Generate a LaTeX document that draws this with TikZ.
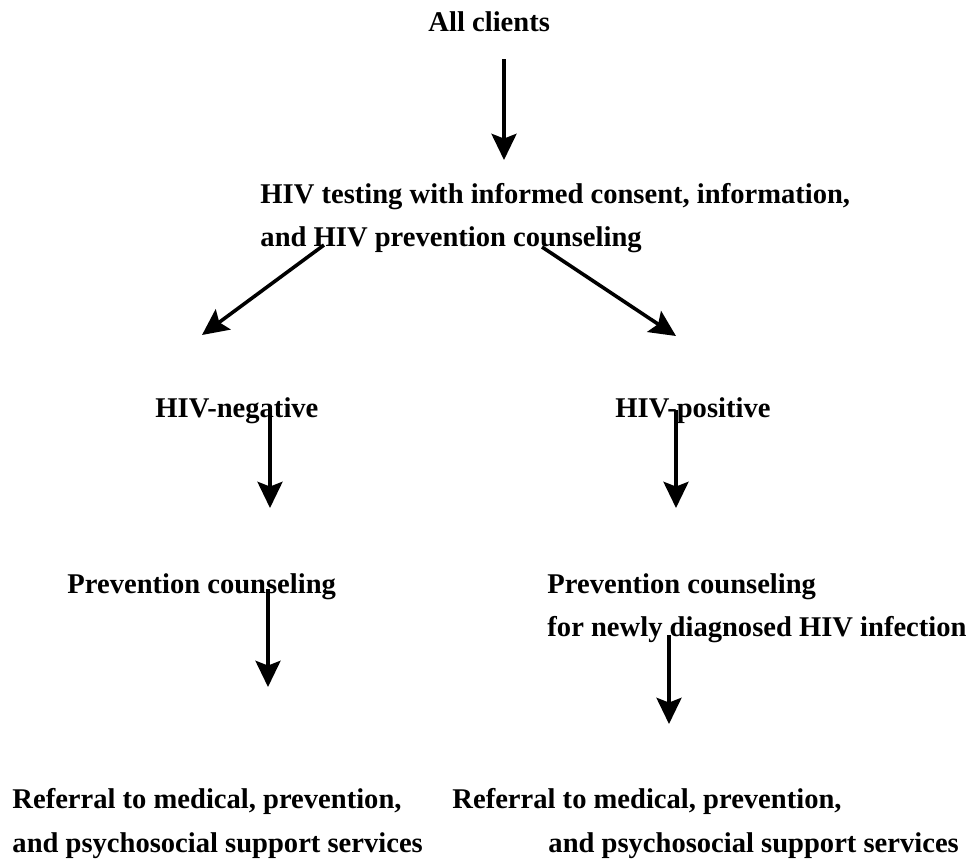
\documentclass[tikz,border=0pt]{standalone}
\usepackage{fontspec}
\setmainfont{Liberation Serif}
\usetikzlibrary{arrows.meta}

\begin{document}
\begin{tikzpicture}[x=0.42pt,y=-0.42pt,
  lbl/.style={anchor=base west,inner sep=0pt,font=\fontsize{12pt}{14pt}\selectfont\bfseries},
  arr/.style={line width=1.5pt,-{Stealth[length=11pt,width=10.5pt,inset=2pt]}}]
\useasboundingbox (0,0) rectangle (969,860);

% texts
\node[lbl] (all) at (428,31) {All clients};
\node[lbl] (test1) at (260,203) {HIV testing with informed consent, information,};
\node[lbl] (test2) at (260,246) {and HIV prevention counseling};
\node[lbl] (neg) at (155,417) {HIV-negative};
\node[lbl] (pos) at (615,417) {HIV-positive};
\node[lbl] (negcoun) at (67,593) {Prevention counseling};
\node[lbl] (poscoun1) at (547,593) {Prevention counseling};
\node[lbl] (poscoun2) at (547,636) {for newly diagnosed HIV infection};
\node[lbl] (negref1) at (12,808) {Referral to medical, prevention,};
\node[lbl] (negref2) at (12,852) {and psychosocial support services};
\node[lbl] (posref1) at (452,808) {Referral to medical, prevention,};
\node[lbl] (posref2) at (548,852) {and psychosocial support services};

% arrow ends
\coordinate (a1) at (504,59);   \coordinate (b1) at (504,160);
\coordinate (a2) at (324,245);  \coordinate (b2) at (202,335);
\coordinate (a3) at (542,247);  \coordinate (b3) at (676,336);
\coordinate (a4) at (270,410);  \coordinate (b4) at (270,508);
\coordinate (a5) at (676,410);  \coordinate (b5) at (676,508);
\coordinate (a6) at (268,589);  \coordinate (b6) at (268,687);
\coordinate (a7) at (669,635);  \coordinate (b7) at (669,724);

\foreach \i in {1,...,7}
\draw[arr] (a\i) -- (b\i);

\end{tikzpicture}
\end{document}
